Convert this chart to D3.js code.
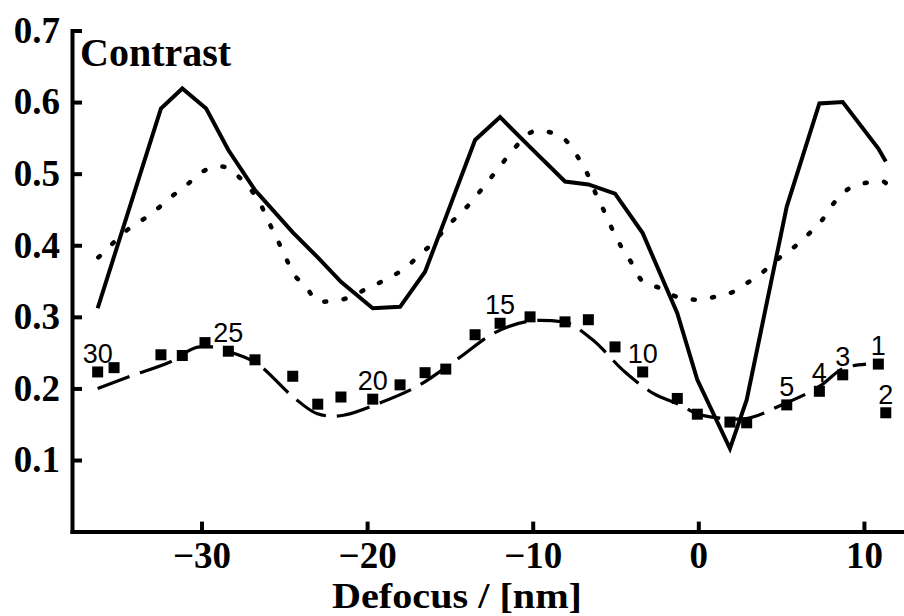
<!DOCTYPE html>
<html>
<head>
<meta charset="utf-8">
<script src="https://cdn.jsdelivr.net/npm/d3@7.9.0/dist/d3.min.js"></script>
<style>
  body { margin: 0; background: #fff; }
  svg { display: block; }
</style>
</head>
<body>
<svg id="chart" width="904" height="616"></svg>
<script>
// measured points, numbered 1..30 (defocus in nm, contrast)
const pointDefocus = [10.87, 11.32, 8.72, 7.31, 5.34, 2.92, 1.91, -0.06, -1.27, -3.36,
  -5.03, -6.64, -8.05, -10.16, -11.97, -13.48, -15.25, -16.50, -18.01, -19.66,
  -21.58, -22.98, -24.49, -26.77, -28.38, -29.79, -31.16, -32.45, -35.28, -36.27];
const pointContrast = [0.234, 0.166, 0.219, 0.196, 0.177, 0.152, 0.153, 0.164, 0.186, 0.223,
  0.258, 0.296, 0.293, 0.300, 0.291, 0.275, 0.227, 0.222, 0.205, 0.185,
  0.188, 0.178, 0.217, 0.240, 0.252, 0.264, 0.246, 0.247, 0.229, 0.223];
const labelledPoints = [1, 2, 3, 4, 5, 10, 15, 20, 25, 30];

// solid curve
const solidDefocus = [-36.27, -32.45, -31.16, -29.72, -28.38, -26.77, -24.49, -22.98, -21.58, -19.66,
  -18.01, -16.50, -15.25, -13.48, -11.97, -10.16, -8.05, -6.64, -5.03, -3.36,
  -1.27, -0.06, 1.91, 2.92, 5.34, 7.31, 8.72, 10.87, 11.32];
const solidContrast = [0.312, 0.591, 0.619, 0.591, 0.533, 0.477, 0.418, 0.383, 0.349, 0.312,
  0.314, 0.363, 0.439, 0.547, 0.579, 0.537, 0.489, 0.485, 0.472, 0.417,
  0.305, 0.212, 0.116, 0.184, 0.454, 0.598, 0.600, 0.535, 0.517];

// dashed curve
const dashedDefocus = [-36.27, -34.32, -31.90, -30.09, -29.08, -28.40, -26.67, -24.46, -23.04, -22.04,
  -21.33, -19.42, -16.81, -14.49, -12.28, -9.56, -8.15, -6.44, -4.43, -2.72,
  -1.11, 0.10, 2.52, 5.13, 7.45, 8.76, 10.13];
const dashedContrast = [0.200, 0.217, 0.237, 0.258, 0.258, 0.252, 0.235, 0.188, 0.165, 0.161,
  0.163, 0.178, 0.205, 0.242, 0.278, 0.295, 0.293, 0.269, 0.223, 0.193,
  0.177, 0.163, 0.157, 0.178, 0.205, 0.228, 0.234];

// dotted curve
const dottedDefocus = [-36.23, -35.34, -34.56, -33.59, -32.61, -31.80, -30.86, -29.93, -28.78, -27.98,
  -27.07, -26.47, -25.97, -25.46, -24.96, -24.46, -23.69, -22.95, -21.74, -19.70,
  -18.62, -17.61, -16.76, -15.90, -15.19, -14.33, -13.54, -12.82, -12.08, -11.37,
  -9.76, -8.55, -7.75, -7.14, -6.58, -6.14, -5.63, -5.13, -4.63, -4.02,
  -3.42, -2.31, -1.30, -0.10, 1.01, 2.11, 3.12, 4.03, 4.93, 5.92,
  6.72, 7.50, 8.19, 9.02, 10.07, 11.15, 11.40];
const dottedContrast = [0.383, 0.403, 0.420, 0.435, 0.452, 0.468, 0.485, 0.503, 0.510, 0.500,
  0.479, 0.459, 0.434, 0.410, 0.385, 0.361, 0.342, 0.321, 0.323, 0.343,
  0.355, 0.370, 0.388, 0.406, 0.426, 0.445, 0.465, 0.486, 0.507, 0.528,
  0.560, 0.555, 0.540, 0.518, 0.494, 0.469, 0.445, 0.419, 0.397, 0.375,
  0.351, 0.340, 0.328, 0.324, 0.328, 0.335, 0.350, 0.365, 0.383, 0.400,
  0.417, 0.436, 0.459, 0.478, 0.487, 0.489, 0.485];

const xTicks = [-30, -20, -10, 0, 10];
const yTicks = [0.1, 0.2, 0.3, 0.4, 0.5, 0.6, 0.7];

const svg = d3.select('#chart');
const serif = '"Liberation Serif", "Times New Roman", serif';
const sans = '"Liberation Sans", Arial, sans-serif';

const x = d3.scaleLinear().domain([-37.82, 12.42]).range([72, 904]);
const y = d3.scaleLinear().domain([0, 0.7]).range([531.6, 30.5]);

// axes
const xAxis = svg.append('g')
  .attr('transform', `translate(0,${y(0)})`)
  .call(d3.axisBottom(x).tickValues(xTicks).tickSizeInner(-10).tickSizeOuter(0));
const yAxis = svg.append('g')
  .attr('transform', `translate(${x.range()[0]},0)`)
  .call(d3.axisLeft(y).tickValues(yTicks).tickFormat(d3.format('.1f')).tickSizeInner(-10).tickSizeOuter(0));

[xAxis, yAxis].forEach(g => {
  g.select('.domain').attr('stroke', '#000').attr('stroke-width', 4).attr('stroke-linecap', 'square');
  g.selectAll('.tick line').attr('stroke', '#000').attr('stroke-width', 4);
  g.selectAll('.tick text')
    .attr('fill', '#000')
    .style('font-family', serif)
    .style('font-weight', 'bold')
    .style('font-size', '37px');
});
xAxis.selectAll('.tick text').attr('y', 36).attr('dy', null);
yAxis.selectAll('.tick text').attr('x', -12);

// axis titles
svg.append('text')
  .attr('x', 457).attr('y', 608)
  .attr('text-anchor', 'middle')
  .attr('textLength', 250).attr('lengthAdjust', 'spacingAndGlyphs')
  .style('font-family', serif).style('font-weight', 'bold').style('font-size', '36px')
  .text('Defocus / [nm]');
svg.append('text')
  .attr('x', 80).attr('y', 66)
  .style('font-family', serif).style('font-weight', 'bold').style('font-size', '40px')
  .text('Contrast');

// lines
const line = d3.line().x(d => x(d[0])).y(d => y(d[1]));
const smooth = d3.line().x(d => x(d[0])).y(d => y(d[1])).curve(d3.curveMonotoneX);

svg.append('path')
  .datum(d3.zip(dottedDefocus, dottedContrast))
  .attr('d', smooth)
  .attr('fill', 'none').attr('stroke', '#000').attr('stroke-width', 4.5)
  .attr('stroke-linecap', 'round').attr('stroke-dasharray', '2,17.5');

svg.append('path')
  .datum(d3.zip(dashedDefocus, dashedContrast))
  .attr('d', smooth)
  .attr('fill', 'none').attr('stroke', '#000').attr('stroke-width', 3.2)
  .attr('stroke-dasharray', '34,11');

svg.append('path')
  .datum(d3.zip(solidDefocus, solidContrast))
  .attr('d', line)
  .attr('fill', 'none').attr('stroke', '#000').attr('stroke-width', 4)
  .attr('stroke-linejoin', 'miter');

// square markers
const pts = d3.zip(pointDefocus, pointContrast);
const s = 11;
svg.append('g').selectAll('rect')
  .data(pts)
  .join('rect')
  .attr('x', d => x(d[0]) - s / 2)
  .attr('y', d => y(d[1]) - s / 2)
  .attr('width', s).attr('height', s)
  .attr('fill', '#000');

// point numbers
svg.append('g').selectAll('text')
  .data(labelledPoints)
  .join('text')
  .attr('x', n => x(pointDefocus[n - 1]))
  .attr('y', n => y(pointContrast[n - 1]) - 9)
  .attr('text-anchor', 'middle')
  .style('font-family', sans).style('font-size', '27px')
  .text(n => n);
</script>
</body>
</html>
